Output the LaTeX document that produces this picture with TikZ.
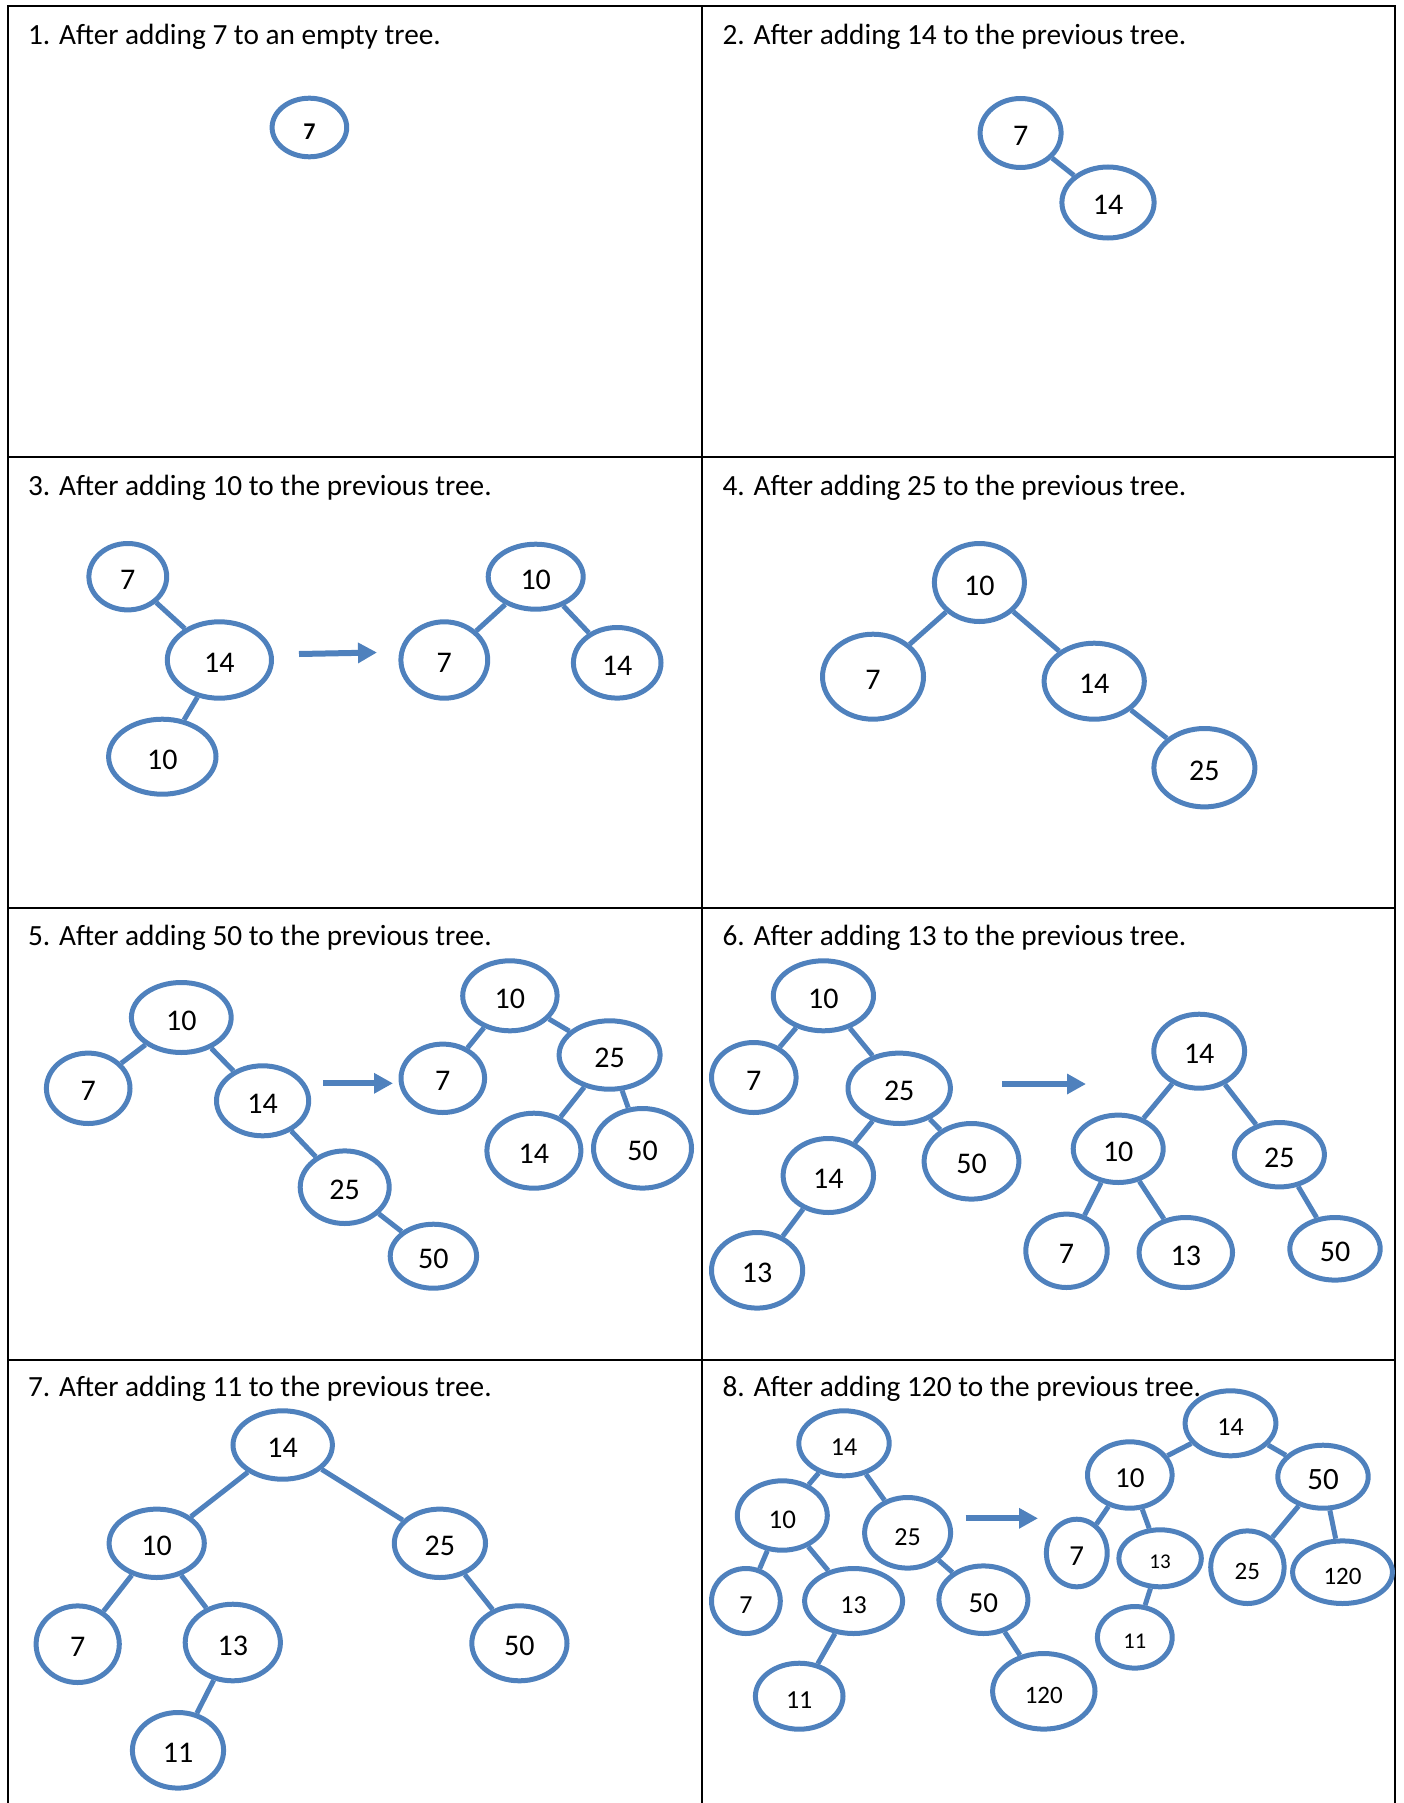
\documentclass[tikz,border=0pt]{standalone}
\usepackage{fontspec}
\setmainfont{Carlito}
\usetikzlibrary{shapes.geometric,arrows.meta}
\definecolor{nodeblue}{HTML}{4F81BD}
\begin{document}
\begin{tikzpicture}[x=1pt,y=-1pt,
  bn/.style={ellipse, draw=nodeblue, line width=5pt, inner sep=0pt, text height=25pt, text depth=0pt, font=\fontsize{30}{36}\selectfont},
  sz/.style 2 args={minimum width=#1pt-1pt, minimum height=#2pt-1pt},
  fs/.style={font=\fontsize{#1}{#1}\selectfont},
  link/.style={draw=nodeblue, line width=5pt},
  bigarrow/.style={draw=nodeblue, line width=6pt, -{Triangle[length=19pt,width=19.5pt]}},
  gridline/.style={line width=2pt, black},
  ttl/.style={anchor=base west, inner sep=0pt, font=\fontsize{29.3}{35}\selectfont}
]
\useasboundingbox (0,0) rectangle (1403,1803);
% grid
\draw[gridline] (8,1803) -- (8,6) -- (1395,6) -- (1395,1803);
\draw[gridline] (702,6) -- (702,1803);
\draw[gridline] (8,457) -- (1395,457);
\draw[gridline] (8,908) -- (1395,908);
\draw[gridline] (8,1360) -- (1395,1360);
% titles
\node[ttl] (t1) at (27.8,45) {1. After adding 7 to an empty tree.};
\node[ttl] (t2) at (722.4,45) {2. After adding 14 to the previous tree.};
\node[ttl] (t3) at (27.8,495) {3. After adding 10 to the previous tree.};
\node[ttl] (t4) at (722.4,495) {4. After adding 25 to the previous tree.};
\node[ttl] (t5) at (27.8,945) {5. After adding 50 to the previous tree.};
\node[ttl] (t6) at (722.4,945) {6. After adding 13 to the previous tree.};
\node[ttl] (t7) at (27.8,1396) {7. After adding 11 to the previous tree.};
\node[ttl] (t8) at (722.4,1396) {8. After adding 120 to the previous tree.};

% panel 1
\node[bn,sz={75.6}{59.6},font=\fontsize{24}{28}\selectfont\bfseries] (p1a) at (309.4,127.5) {7};

% panel 2
\node[bn,sz={82}{70}] (p2a) at (1020.6,133) {7};
\node[bn,sz={93.2}{72}] (p2b) at (1108,202.5) {14};
\draw[link] (p2a) -- (p2b);

% panel 3
\node[bn,sz={78.8}{67.4}] (p3a) at (127.8,576.7) {7};
\node[bn,sz={105.2}{77.4}] (p3b) at (219.4,660) {14};
\node[bn,sz={108.4}{76}] (p3c) at (162.3,756.7) {10};
\node[bn,sz={96}{66}] (p3d) at (535.7,576.7) {10};
\node[bn,sz={87.8}{77.4}] (p3e) at (444.3,660) {7};
\node[bn,sz={88.6}{71.6}] (p3f) at (617.2,662.8) {14};
\draw[link] (p3a) -- (p3b);
\draw[link] (p3b) -- (p3c);
\draw[link] (p3d) -- (p3e);
\draw[link] (p3d) -- (p3f);
\coordinate (a3s) at (299,654);
\coordinate (a3e) at (377,652.5);
\draw[bigarrow] (a3s) -- (a3e);

% panel 4
\node[bn,sz={91}{79}] (p4a) at (979.4,582.5) {10};
\node[bn,sz={102}{86}] (p4b) at (873,676.7) {7};
\node[bn,sz={101.2}{77}] (p4c) at (1094.2,681.2) {14};
\node[bn,sz={102}{79.4}] (p4d) at (1204.4,767.7) {25};
\draw[link] (p4a) -- (p4b);
\draw[link] (p4a) -- (p4c);
\draw[link] (p4c) -- (p4d);

% panel 5
\node[bn,sz={100.8}{71}] (p5a) at (181.3,1017.5) {10};
\node[bn,sz={84.6}{71.4}] (p5b) at (88.2,1088.3) {7};
\node[bn,sz={93.2}{71}] (p5c) at (262.6,1100.8) {14};
\node[bn,sz={90}{73.6}] (p5d) at (344.7,1187.2) {25};
\node[bn,sz={87.4}{65}] (p5e) at (433.4,1256.2) {50};
\draw[link] (p5a) -- (p5b);
\draw[link] (p5a) -- (p5c);
\draw[link] (p5c) -- (p5d);
\draw[link] (p5d) -- (p5e);
\coordinate (a5s) at (323,1083.3);
\coordinate (a5e) at (393,1083.3);
\draw[bigarrow] (a5s) -- (a5e);
\node[bn,sz={95.4}{71}] (p5f) at (509.9,995.8) {10};
\node[bn,sz={84.6}{69.4}] (p5g) at (442.8,1078.3) {7};
\node[bn,sz={102}{69.4}] (p5h) at (609.6,1055) {25};
\node[bn,sz={95}{76}] (p5i) at (533.9,1150.7) {14};
\node[bn,sz={99}{80.6}] (p5j) at (642.5,1148.3) {50};
\draw[link] (p5f) -- (p5g);
\draw[link] (p5f) -- (p5h);
\draw[link] (p5h) -- (p5i);
\draw[link] (p5h) -- (p5j);

% panel 6
\node[bn,sz={101.2}{71}] (p6a) at (823.4,995.8) {10};
\node[bn,sz={85.6}{71}] (p6b) at (753.8,1077.5) {7};
\node[bn,sz={103.4}{71.4}] (p6c) at (899.2,1088.3) {25};
\node[bn,sz={91.4}{75}] (p6d) at (828.3,1175.5) {14};
\node[bn,sz={95.8}{76.6}] (p6e) at (971.5,1161.3) {50};
\node[bn,sz={92.2}{76.6}] (p6f) at (757.1,1270.3) {13};
\draw[link] (p6a) -- (p6b);
\draw[link] (p6a) -- (p6c);
\draw[link] (p6c) -- (p6d);
\draw[link] (p6c) -- (p6e);
\draw[link] (p6d) -- (p6f);
\coordinate (a6s) at (1002,1084);
\coordinate (a6e) at (1086,1084);
\draw[bigarrow] (a6s) -- (a6e);
\node[bn,sz={91.8}{75}] (p6g) at (1199.2,1051.2) {14};
\node[bn,sz={91}{68.4}] (p6h) at (1118.2,1148.8) {10};
\node[bn,sz={91}{65.4}] (p6i) at (1279.4,1154.7) {25};
\node[bn,sz={82.4}{74.4}] (p6j) at (1066.5,1250.8) {7};
\node[bn,sz={94.4}{71}] (p6k) at (1185.8,1252.5) {13};
\node[bn,sz={91.4}{63.6}] (p6l) at (1335,1248.8) {50};
\draw[link] (p6g) -- (p6h);
\draw[link] (p6g) -- (p6i);
\draw[link] (p6h) -- (p6j);
\draw[link] (p6h) -- (p6k);
\draw[link] (p6i) -- (p6l);

% panel 7
\node[bn,sz={100.4}{69.4}] (p7a) at (282.7,1445) {14};
\node[bn,sz={96.2}{69.4}] (p7b) at (156.7,1543.3) {10};
\node[bn,sz={92.2}{69.4}] (p7c) at (439.9,1543.3) {25};
\node[bn,sz={84.2}{77.6}] (p7d) at (77.7,1644.2) {7};
\node[bn,sz={96.2}{77.6}] (p7e) at (232.8,1642.5) {13};
\node[bn,sz={96.2}{76}] (p7f) at (519.4,1643.3) {50};
\node[bn,sz={92.2}{76.6}] (p7g) at (178,1750.3) {11};
\draw[link] (p7a) -- (p7b);
\draw[link] (p7a) -- (p7c);
\draw[link] (p7b) -- (p7d);
\draw[link] (p7b) -- (p7e);
\draw[link] (p7c) -- (p7f);
\draw[link] (p7e) -- (p7g);

% panel 8 left
\node[bn,sz={91.4}{66},fs=26] (p8a) at (844,1443.3) {14};
\node[bn,sz={91}{70.4},fs=27] (p8b) at (782.3,1515.5) {10};
\node[bn,sz={87}{71.6},fs=26] (p8c) at (907.6,1532.8) {25};
\node[bn,sz={69.8}{66},fs=26] (p8d) at (745.9,1601) {7};
\node[bn,sz={99}{66},fs=26] (p8e) at (853.6,1601) {13};
\node[bn,sz={90}{68.6},fs=29] (p8f) at (983.4,1599.7) {50};
\node[bn,sz={88.6}{67},fs=26] (p8g) at (799.2,1696.2) {11};
\node[bn,sz={103.4}{76.6},fs=25] (p8h) at (1043.8,1691.3) {120};
\draw[link] (p8a) -- (p8b);
\draw[link] (p8a) -- (p8c);
\draw[link] (p8b) -- (p8d);
\draw[link] (p8b) -- (p8e);
\draw[link] (p8e) -- (p8g);
\draw[link] (p8c) -- (p8f);
\draw[link] (p8f) -- (p8h);
\coordinate (a8s) at (965.5,1518.3);
\coordinate (a8e) at (1038,1518.3);
\draw[bigarrow] (a8s) -- (a8e);
% panel 8 right
\node[bn,sz={91.8}{66},fs=26] (p8i) at (1230.5,1423.3) {14};
\node[bn,sz={85.6}{67.4},fs=29] (p8j) at (1129.8,1475) {10};
\node[bn,sz={91.4}{64},fs=31] (p8k) at (1323,1476.7) {50};
\node[bn,sz={61.8}{68.6},fs=29] (p8l) at (1076.8,1553) {7};
\node[bn,sz={83.4}{58},fs=21,text height=21pt] (p8m) at (1160.1,1558.3) {13};
\node[bn,sz={74.4}{73.6},fs=25] (p8n) at (1247.4,1567.2) {25};
\node[bn,sz={100.8}{63.6},fs=25] (p8o) at (1342.5,1572.2) {120};
\node[bn,sz={75.8}{62.6},fs=22.5,text height=22pt] (p8p) at (1134.8,1637.3) {11};
\draw[link] (p8i) -- (p8j);
\draw[link] (p8i) -- (p8k);
\draw[link] (p8j) -- (p8l);
\draw[link] (p8j) -- (p8m);
\draw[link] (p8m) -- (p8p);
\draw[link] (p8k) -- (p8n);
\draw[link] (p8k) -- (p8o);
\end{tikzpicture}
\end{document}
